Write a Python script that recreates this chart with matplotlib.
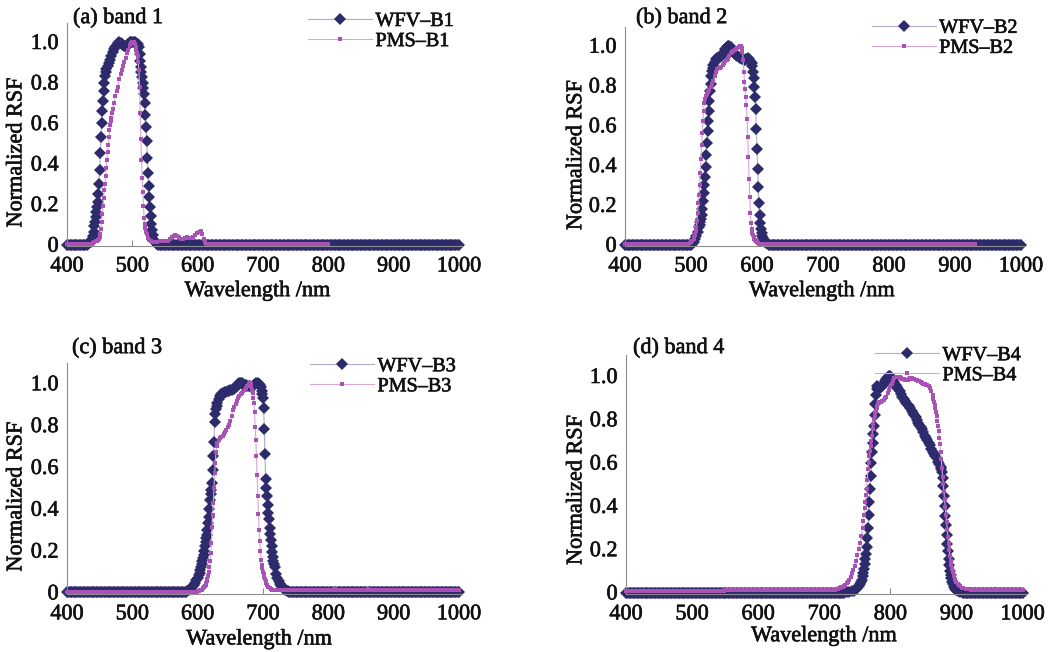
import numpy as np
import matplotlib
matplotlib.use("Agg")
import matplotlib.pyplot as plt
import matplotlib.patheffects as pe

plt.rcParams['font.family'] = ['Liberation Serif', 'DejaVu Serif']

# ---------------------------------------------------------------- axes text
x_ticks = [400, 500, 600, 700, 800, 900, 1000]
y_ticks = [0, 0.2, 0.4, 0.6, 0.8, 1.0]
y_tick_labels = ['0', '0.2', '0.4', '0.6', '0.8', '1.0']
x_label = 'Wavelength /nm'
y_label = 'Normalized RSF'
panel_titles = ['(a) band 1', '(b) band 2', '(c) band 3', '(d) band 4']
wfv_names = ['WFV–B1', 'WFV–B2', 'WFV–B3', 'WFV–B4']
pms_names = ['PMS–B1', 'PMS–B2', 'PMS–B3', 'PMS–B4']

# ------------------------------------------------- relative spectral response
# flat runs outside the passband: (start nm, stop nm, level), sampled every 2 nm
# passband samples: (wavelength nm, normalized response)

wfv1_floor = [(400, 428, 0.0), (542, 1000, 0.0)]
wfv1_band = [(430, 0.0), (432, 0.004), (434, 0.008), (436, 0.014), (438, 0.022), (439, 0.03),
             (440, 0.045), (441, 0.065), (442, 0.09), (443, 0.11), (444, 0.135), (445, 0.16),
             (446, 0.185), (447, 0.21), (448, 0.25), (449, 0.30), (450, 0.37), (451, 0.45),
             (452, 0.53), (453, 0.60), (454, 0.66), (455, 0.71), (456, 0.76), (457, 0.80),
             (458, 0.83), (459, 0.85), (460, 0.865), (462, 0.88), (464, 0.895), (466, 0.91),
             (468, 0.93), (470, 0.95), (472, 0.965), (474, 0.975), (476, 0.985), (478, 0.993),
             (480, 1.0), (482, 0.995), (484, 0.99), (486, 0.985), (488, 0.978), (490, 0.975),
             (492, 0.98), (494, 0.99), (496, 0.998), (498, 1.0), (500, 0.998), (502, 1.0),
             (504, 0.998), (506, 0.995), (508, 0.99), (510, 0.975), (511, 0.94), (512, 0.905),
             (513, 0.875), (514, 0.85), (515, 0.825), (516, 0.80), (517, 0.775), (518, 0.745),
             (519, 0.70), (520, 0.64), (521, 0.58), (522, 0.51), (523, 0.43), (524, 0.355),
             (525, 0.29), (526, 0.235), (527, 0.185), (528, 0.14), (529, 0.10), (530, 0.07),
             (531, 0.048), (532, 0.03), (533, 0.02), (534, 0.013), (536, 0.006), (538, 0.002),
             (540, 0.0)]

pms1_floor = [(400, 438, 0.003), (616, 800, 0.004)]
pms1_band = [(440, 0.008), (442, 0.012), (444, 0.016), (446, 0.02), (448, 0.025), (449, 0.03),
             (450, 0.04), (451, 0.055), (452, 0.075), (453, 0.11), (454, 0.15), (455, 0.19),
             (456, 0.23), (457, 0.27), (458, 0.30), (459, 0.34), (460, 0.38), (461, 0.42),
             (462, 0.455), (463, 0.49), (464, 0.53), (465, 0.565), (466, 0.59), (467, 0.61),
             (468, 0.625), (469, 0.65), (470, 0.67), (472, 0.70), (474, 0.735), (476, 0.76),
             (478, 0.78), (480, 0.815), (482, 0.84), (484, 0.86), (486, 0.88), (488, 0.90),
             (490, 0.92), (492, 0.945), (494, 0.96), (496, 0.985), (498, 0.995), (500, 1.0),
             (502, 1.0), (504, 0.99), (505, 0.975), (506, 0.96), (507, 0.945), (508, 0.93),
             (509, 0.90), (510, 0.86), (511, 0.78), (512, 0.65), (513, 0.52), (514, 0.42),
             (515, 0.33), (516, 0.26), (517, 0.19), (518, 0.13), (519, 0.10), (520, 0.08),
             (521, 0.065), (522, 0.055), (524, 0.035), (526, 0.025), (528, 0.018), (530, 0.015),
             (534, 0.014), (538, 0.015), (542, 0.016), (546, 0.016), (550, 0.017), (554, 0.02),
             (557, 0.028), (560, 0.038), (563, 0.045), (566, 0.047), (569, 0.044), (572, 0.036),
             (575, 0.03), (578, 0.03), (581, 0.033), (584, 0.036), (587, 0.035), (590, 0.034),
             (593, 0.038), (596, 0.046), (599, 0.056), (602, 0.064), (605, 0.068), (607, 0.055),
             (609, 0.03), (611, 0.012), (613, 0.005)]

wfv2_floor = [(400, 498, 0.0), (622, 1000, 0.0)]
wfv2_band = [(500, 0.0), (502, 0.005), (504, 0.015), (506, 0.03), (508, 0.045), (510, 0.065),
             (512, 0.09), (513, 0.10), (514, 0.115), (515, 0.13), (516, 0.15), (517, 0.18),
             (518, 0.22), (519, 0.26), (520, 0.30), (521, 0.34), (522, 0.39), (523, 0.45),
             (524, 0.51), (525, 0.57), (526, 0.62), (527, 0.67), (528, 0.72), (529, 0.77),
             (530, 0.81), (531, 0.85), (532, 0.875), (533, 0.89), (534, 0.905), (536, 0.92),
             (538, 0.935), (540, 0.94), (542, 0.945), (544, 0.945), (546, 0.95), (548, 0.96),
             (550, 0.97), (552, 0.985), (554, 0.995), (556, 1.0), (558, 1.0), (560, 0.995),
             (562, 0.985), (564, 0.97), (566, 0.96), (568, 0.955), (570, 0.95), (572, 0.945),
             (574, 0.94), (576, 0.94), (578, 0.935), (580, 0.93), (582, 0.93), (584, 0.935),
             (586, 0.94), (588, 0.935), (590, 0.925), (592, 0.915), (593, 0.90), (594, 0.87),
             (595, 0.84), (596, 0.79), (597, 0.74), (598, 0.68), (599, 0.58), (600, 0.48),
             (601, 0.38), (602, 0.29), (603, 0.21), (604, 0.15), (605, 0.11), (606, 0.08),
             (607, 0.06), (608, 0.045), (609, 0.035), (610, 0.025), (612, 0.015), (614, 0.008),
             (616, 0.004), (618, 0.001), (620, 0.0)]

pms2_floor = [(400, 494, 0.005), (606, 930, 0.006)]
pms2_band = [(496, 0.005), (498, 0.01), (500, 0.015), (502, 0.02), (504, 0.03), (505, 0.04),
             (506, 0.05), (507, 0.07), (508, 0.09), (509, 0.12), (510, 0.16), (511, 0.21),
             (512, 0.25), (513, 0.30), (514, 0.36), (515, 0.43), (516, 0.50), (517, 0.56),
             (518, 0.62), (519, 0.67), (520, 0.71), (521, 0.73), (522, 0.745), (524, 0.755),
             (526, 0.765), (528, 0.775), (530, 0.79), (532, 0.81), (534, 0.825), (536, 0.85),
             (538, 0.87), (540, 0.885), (542, 0.89), (544, 0.89), (546, 0.895), (548, 0.905),
             (550, 0.915), (552, 0.925), (554, 0.93), (556, 0.935), (558, 0.95), (560, 0.965),
             (562, 0.97), (564, 0.975), (566, 0.98), (568, 0.985), (570, 0.99), (572, 0.995),
             (574, 1.0), (576, 1.0), (577, 0.99), (578, 0.97), (579, 0.93), (580, 0.87),
             (581, 0.82), (582, 0.78), (583, 0.74), (584, 0.70), (585, 0.63), (586, 0.54),
             (587, 0.44), (588, 0.33), (589, 0.24), (590, 0.16), (591, 0.11), (592, 0.08),
             (593, 0.06), (594, 0.05), (595, 0.04), (596, 0.03), (597, 0.025), (598, 0.018),
             (600, 0.012), (602, 0.008), (604, 0.006)]

wfv3_floor = [(400, 578, 0.0), (744, 1000, 0.0)]
wfv3_band = [(580, 0.0), (582, 0.004), (584, 0.008), (586, 0.013), (588, 0.017), (590, 0.021),
             (592, 0.026), (594, 0.035), (596, 0.046), (598, 0.06), (600, 0.07), (602, 0.085),
             (603, 0.095), (604, 0.105), (605, 0.12), (606, 0.135), (607, 0.15), (608, 0.165),
             (609, 0.18), (610, 0.20), (611, 0.22), (612, 0.24), (613, 0.26), (614, 0.275),
             (615, 0.30), (616, 0.33), (617, 0.36), (618, 0.40), (619, 0.44), (620, 0.47),
             (621, 0.49), (622, 0.525), (623, 0.585), (624, 0.65), (625, 0.72), (626, 0.815),
             (627, 0.855), (628, 0.875), (629, 0.89), (630, 0.905), (632, 0.925), (634, 0.94),
             (636, 0.948), (638, 0.952), (640, 0.955), (642, 0.957), (644, 0.96), (646, 0.962),
             (648, 0.965), (650, 0.967), (652, 0.97), (654, 0.972), (656, 0.975), (658, 0.98),
             (660, 0.988), (662, 0.995), (664, 1.0), (666, 1.0), (668, 1.0), (670, 0.998),
             (672, 0.993), (674, 0.99), (676, 0.987), (678, 0.985), (680, 0.985), (682, 0.984),
             (684, 0.985), (686, 0.99), (688, 0.995), (690, 1.0), (692, 1.0), (694, 0.998),
             (696, 0.99), (697, 0.98), (698, 0.965), (699, 0.95), (700, 0.93), (701, 0.88),
             (702, 0.78), (703, 0.66), (704, 0.54), (705, 0.50), (706, 0.46), (707, 0.42),
             (708, 0.38), (709, 0.35), (710, 0.31), (711, 0.28), (712, 0.25), (713, 0.22),
             (714, 0.195), (715, 0.17), (716, 0.15), (717, 0.135), (718, 0.12), (720, 0.09),
             (722, 0.07), (724, 0.055), (726, 0.042), (728, 0.032), (730, 0.025), (732, 0.018),
             (734, 0.012), (736, 0.008), (738, 0.005), (740, 0.002), (742, 0.0)]

pms3_floor = [(400, 598, 0.004), (728, 806, 0.011), (814, 856, 0.011), (864, 1000, 0.011)]
pms3_band = [(600, 0.006), (602, 0.008), (604, 0.01), (606, 0.014), (608, 0.02), (610, 0.026),
             (611, 0.03), (612, 0.037), (613, 0.045), (614, 0.055), (615, 0.065), (616, 0.08),
             (617, 0.10), (618, 0.12), (619, 0.15), (620, 0.19), (621, 0.235), (622, 0.315),
             (623, 0.37), (624, 0.43), (625, 0.50), (626, 0.57), (627, 0.62), (628, 0.67),
             (629, 0.70), (630, 0.715), (632, 0.728), (634, 0.738), (636, 0.745), (638, 0.75),
             (640, 0.757), (642, 0.765), (644, 0.775), (646, 0.79), (648, 0.80), (650, 0.82),
             (652, 0.845), (654, 0.87), (656, 0.885), (658, 0.90), (660, 0.915), (662, 0.93),
             (664, 0.94), (666, 0.948), (668, 0.955), (670, 0.965), (672, 0.97), (674, 0.978),
             (676, 0.985), (678, 0.995), (680, 1.0), (681, 0.995), (682, 0.985), (683, 0.97),
             (684, 0.955), (685, 0.93), (686, 0.905), (687, 0.865), (688, 0.79), (689, 0.73),
             (690, 0.65), (691, 0.56), (692, 0.46), (693, 0.375), (694, 0.30), (695, 0.245),
             (696, 0.20), (697, 0.155), (698, 0.13), (699, 0.115), (700, 0.10), (701, 0.088),
             (702, 0.075), (703, 0.065), (704, 0.053), (705, 0.045), (706, 0.038), (708, 0.028),
             (710, 0.02), (712, 0.016), (714, 0.013), (716, 0.011), (720, 0.01), (724, 0.01),
             (726, 0.011), (808, 0.014), (810, 0.017), (812, 0.014), (858, 0.014), (860, 0.017),
             (862, 0.014)]

wfv4_floor = [(400, 728, 0.0), (912, 1000, 0.0)]
wfv4_band = [(730, 0.0), (734, 0.002), (738, 0.003), (742, 0.005), (745, 0.008), (748, 0.014),
             (750, 0.02), (752, 0.03), (754, 0.04), (756, 0.05), (757, 0.06), (758, 0.075),
             (759, 0.09), (760, 0.11), (761, 0.13), (762, 0.155), (763, 0.18), (764, 0.21),
             (765, 0.25), (766, 0.30), (767, 0.36), (768, 0.42), (769, 0.48), (770, 0.54),
             (771, 0.60), (772, 0.65), (773, 0.69), (774, 0.73), (775, 0.77), (776, 0.82),
             (777, 0.87), (778, 0.91), (779, 0.94), (780, 0.955), (782, 0.95), (784, 0.945),
             (786, 0.948), (788, 0.955), (790, 0.965), (792, 0.975), (794, 0.988), (796, 0.995),
             (798, 1.0), (800, 1.0), (802, 0.99), (804, 0.98), (806, 0.97), (808, 0.96),
             (810, 0.95), (812, 0.94), (814, 0.93), (816, 0.915), (818, 0.905), (820, 0.895),
             (822, 0.885), (824, 0.875), (826, 0.865), (828, 0.86), (830, 0.85), (832, 0.84),
             (834, 0.83), (836, 0.82), (838, 0.81), (840, 0.795), (842, 0.785), (844, 0.775),
             (846, 0.765), (848, 0.755), (850, 0.74), (852, 0.725), (854, 0.715), (856, 0.705),
             (858, 0.69), (860, 0.68), (862, 0.665), (864, 0.65), (866, 0.64), (868, 0.63),
             (870, 0.62), (872, 0.605), (874, 0.595), (876, 0.58), (877, 0.57), (878, 0.555),
             (879, 0.53), (880, 0.49), (881, 0.445), (882, 0.40), (883, 0.355), (884, 0.31),
             (885, 0.265), (886, 0.225), (887, 0.19), (888, 0.155), (889, 0.125), (890, 0.10),
             (891, 0.08), (892, 0.065), (893, 0.05), (894, 0.04), (896, 0.025), (898, 0.015),
             (900, 0.01), (903, 0.006), (906, 0.003), (910, 0.0)]

pms4_floor = [(400, 548, 0.008), (550, 606, 0.012), (608, 714, 0.01), (932, 1000, 0.011)]
pms4_band = [(716, 0.012), (718, 0.015), (720, 0.018), (722, 0.021), (724, 0.023), (726, 0.025),
             (728, 0.027), (730, 0.03), (732, 0.036), (734, 0.043), (736, 0.05), (738, 0.06),
             (740, 0.072), (742, 0.088), (744, 0.105), (746, 0.122), (748, 0.145), (750, 0.175),
             (752, 0.20), (754, 0.23), (756, 0.26), (758, 0.30), (759, 0.33), (760, 0.36),
             (761, 0.39), (762, 0.42), (763, 0.45), (764, 0.48), (765, 0.52), (766, 0.57),
             (767, 0.60), (768, 0.63), (769, 0.655), (770, 0.675), (771, 0.70), (772, 0.725),
             (773, 0.755), (774, 0.78), (775, 0.80), (776, 0.815), (777, 0.83), (778, 0.84),
             (779, 0.85), (780, 0.862), (782, 0.875), (784, 0.878), (786, 0.88), (788, 0.883),
             (790, 0.89), (792, 0.897), (794, 0.905), (796, 0.92), (798, 0.935), (800, 0.95),
             (802, 0.965), (804, 0.978), (806, 0.99), (808, 0.995), (810, 0.997), (812, 0.995),
             (814, 0.993), (816, 0.99), (818, 0.987), (820, 0.985), (822, 0.982), (824, 0.98),
             (826, 0.982), (828, 0.986), (830, 0.99), (832, 0.99), (834, 0.988), (836, 0.985),
             (838, 0.983), (840, 0.98), (842, 0.978), (844, 0.975), (846, 0.972), (848, 0.968),
             (850, 0.965), (852, 0.962), (854, 0.96), (856, 0.958), (858, 0.952), (860, 0.945),
             (862, 0.93), (864, 0.91), (865, 0.895), (866, 0.88), (867, 0.865), (868, 0.85),
             (869, 0.835), (870, 0.815), (871, 0.79), (872, 0.77), (873, 0.745), (874, 0.715),
             (875, 0.685), (876, 0.65), (877, 0.615), (878, 0.575), (879, 0.535), (880, 0.50),
             (881, 0.465), (882, 0.43), (883, 0.395), (884, 0.36), (885, 0.325), (886, 0.29),
             (887, 0.255), (888, 0.225), (889, 0.195), (890, 0.17), (891, 0.145), (892, 0.125),
             (893, 0.11), (894, 0.095), (896, 0.075), (898, 0.06), (900, 0.05), (902, 0.04),
             (904, 0.033), (906, 0.028), (908, 0.023), (910, 0.02), (914, 0.017), (918, 0.015),
             (922, 0.013), (926, 0.012), (930, 0.011)]

wfv_floors = [wfv1_floor, wfv2_floor, wfv3_floor, wfv4_floor]
wfv_bands = [wfv1_band, wfv2_band, wfv3_band, wfv4_band]
pms_floors = [pms1_floor, pms2_floor, pms3_floor, pms4_floor]
pms_bands = [pms1_band, pms2_band, pms3_band, pms4_band]


def assemble(floor, band):
    """Merge flat out-of-band runs with passband samples, sorted by wavelength."""
    pts = list(band)
    for start, stop, level in floor:
        pts += [(w, level) for w in range(start, stop + 1, 2)]
    pts.sort()
    nm, val = zip(*pts)
    return np.asarray(nm, float), np.asarray(val, float)


# ------------------------------------------------------------------- styling
WFV_MARK = '#2d2b6b'
WFV_LINE = '#b4a8cc'
PMS_MARK = '#a952b5'
PMS_LINE = '#d9a4dc'
SPINE = '#8c8c8c'
TEXT = '#111111'
FS = 16
# slightly heavier glyph strokes for all text
INK = [pe.withStroke(linewidth=0.45, foreground=TEXT)]

W, H = 1055, 652
# panel layout in pixels: left, top, right, bottom
panel_px = [(67, 22.7, 462.3, 245.7),
            (625, 26.8, 1024.3, 245.7),
            (67, 363.4, 462.3, 593.5),
            (626, 355.4, 1025.9, 593.6)]
title_px = [(73, 18.5), (636, 18.5), (72, 348.5), (633, 348.5)]
legend_px = [(308, 31.5), (871.7, 38.3), (310, 376.7), (875, 365.7)]
xlabel_frac = [(0.482, -0.206), (0.493, -0.210), (0.486, -0.202), (0.495, -0.181)]
ylabel_frac = [(-0.127, 0.418), (-0.121, 0.414), (-0.127, 0.421), (-0.123, 0.435)]

fig = plt.figure(figsize=(W / 100, H / 100), dpi=100)
fig.patch.set_facecolor('white')

for i in range(4):
    l, t, r, b = panel_px[i]
    ax = fig.add_axes([l / W, 1 - b / H, (r - l) / W, (b - t) / H])

    wnm, wval = assemble(wfv_floors[i], wfv_bands[i])
    pnm, pval = assemble(pms_floors[i], pms_bands[i])
    h1, = ax.plot(wnm, wval, color=WFV_LINE, lw=0.8, marker='D', ms=6.0,
                  mfc=WFV_MARK, mec=WFV_MARK, mew=0, zorder=2, clip_on=False)
    h2, = ax.plot(pnm, pval, color=PMS_LINE, lw=0.8, marker='s', ms=3.0,
                  mfc=PMS_MARK, mec=PMS_MARK, mew=0, zorder=3, clip_on=False)

    ax.set_xlim(400, 1005)
    ax.set_ylim(-0.005, 1.095)
    ax.set_xticks(x_ticks)
    ax.set_yticks(y_ticks)
    ax.set_yticklabels(y_tick_labels)
    for side in ('top', 'right'):
        ax.spines[side].set_visible(False)
    for side in ('left', 'bottom'):
        ax.spines[side].set_color(SPINE)
        ax.spines[side].set_linewidth(0.8)
    ax.tick_params(axis='x', direction='in', length=4, width=0.8, color=SPINE,
                   pad=8.5, labelsize=FS, labelcolor=TEXT)
    ax.tick_params(axis='y', length=0, pad=6.0, labelsize=FS, labelcolor=TEXT)
    for lab in ax.get_xticklabels() + ax.get_yticklabels():
        lab.set_path_effects(INK)

    ax.set_xlabel(x_label, fontsize=FS, color=TEXT, va='center', path_effects=INK)
    ax.xaxis.set_label_coords(*xlabel_frac[i])
    ax.set_ylabel(y_label, fontsize=FS, color=TEXT, va='center', path_effects=INK)
    ax.yaxis.set_label_coords(*ylabel_frac[i])

    tx, ty = title_px[i]
    fig.text(tx / W, 1 - ty / H, panel_titles[i], fontsize=FS, color=TEXT,
             ha='left', va='center', path_effects=INK)

    lx, ly = legend_px[i]
    leg = ax.legend([h1, h2], [wfv_names[i], pms_names[i]], loc='center left',
                    bbox_to_anchor=(lx / W, 1 - ly / H), bbox_transform=fig.transFigure,
                    frameon=False, fontsize=14.5, handlelength=3.2, handletextpad=0.15,
                    labelspacing=0.05, borderpad=0, borderaxespad=0, numpoints=1,
                    labelcolor=TEXT)
    for txt in leg.get_texts():
        txt.set_path_effects(INK)

fig.savefig('out.png', dpi=100, facecolor='white')
